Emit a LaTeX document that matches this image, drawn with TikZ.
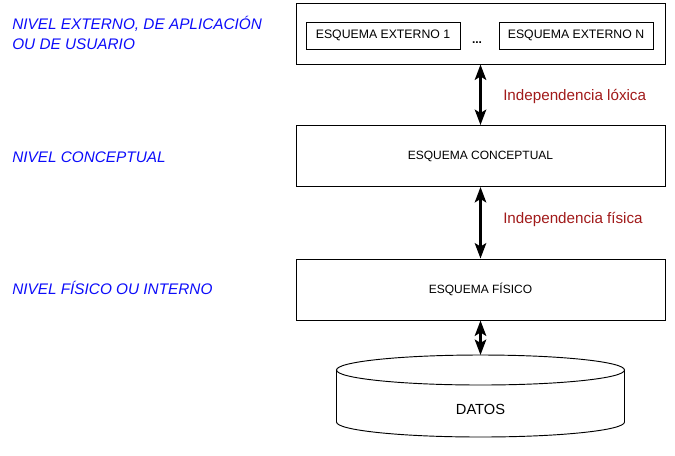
\documentclass[tikz,border=0pt]{standalone}
\usepackage{fontspec}
\setmainfont{Liberation Sans}
\usetikzlibrary{arrows.meta,positioning}
\definecolor{LevelBlue}{HTML}{0C0CFA}
\definecolor{IndepRed}{HTML}{A11A1A}

\begin{document}
\begin{tikzpicture}[x=0.75pt,y=-0.75pt,>={Stealth[length=11.5pt,width=8.5pt,inset=2.5pt]},
  schema/.style={draw,line width=0.7pt,minimum width=276.75pt,minimum height=45.75pt,inner sep=0pt,font=\fontsize{9}{11}\selectfont},
  extbox/.style={draw,line width=0.7pt,minimum width=115.5pt,minimum height=20.25pt,inner sep=0pt,font=\fontsize{9.2}{11}\selectfont},
  level/.style={anchor=base west,text=LevelBlue,font=\fontsize{11.5}{15}\selectfont\itshape,align=left,inner sep=0pt},
  indep/.style={anchor=base west,text=IndepRed,font=\fontsize{11.4}{13}\selectfont,inner sep=0pt},
  link/.style={<->,line width=2.2pt}]
\useasboundingbox (0,0) rectangle (675,455);
% levels
\node[level] (lvlext) at (12,49.5) {NIVEL EXTERNO, DE APLICACIÓN\\OU DE USUARIO};
\node[level] (lvlconc) at (12,162) {NIVEL CONCEPTUAL};
\node[level] (lvlfis) at (12,294.5) {NIVEL FÍSICO OU INTERNO};
% schemas
\node[schema] (externo) at (480.5,33.5) {};
\node[extbox] (ext1) at (383,35.5) {ESQUEMA EXTERNO 1};
\node[anchor=base,inner sep=0pt,font=\fontsize{9}{11}\selectfont\bfseries] (dots) at (477,43) {...};
\node[extbox] (extn) at (576,35.5) {ESQUEMA EXTERNO N};
\node[schema] (conceptual) at (480.5,156) {ESQUEMA CONCEPTUAL};
\node[schema] (fisico) at (480.5,289.5) {ESQUEMA FÍSICO};
% data store
\draw[line width=0.7pt] (480.5,370) ellipse [x radius=144, y radius=15];
\draw[line width=0.7pt] (336.5,370) -- (336.5,422)
  arc[start angle=180,end angle=0,x radius=144,y radius=15] -- (624.5,370);
\coordinate (datostop) at (480.5,355);
\node[anchor=base,inner sep=0pt,font=\fontsize{11}{13}\selectfont] (datos) at (480.5,414) {DATOS};
% independence
\draw[link] (externo.south) -- (conceptual.north);
\draw[link] (conceptual.south) -- (fisico.north);
\draw[link] (fisico.south) -- (datostop);
\node[indep] (logica) at (503,100.5) {Independencia lóxica};
\node[indep] (fisica) at (503,223.5) {Independencia física};
\end{tikzpicture}
\end{document}
